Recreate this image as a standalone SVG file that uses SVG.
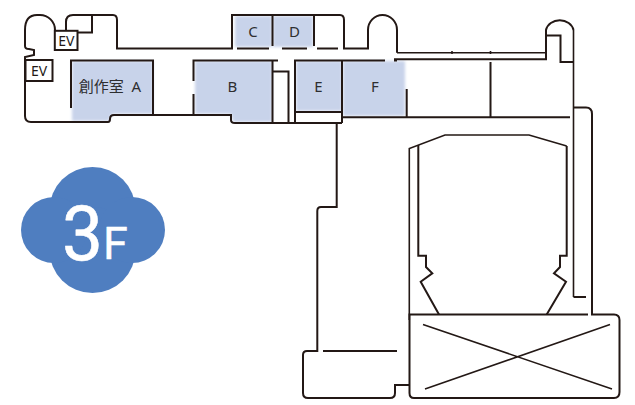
<svg xmlns="http://www.w3.org/2000/svg" width="635" height="405" viewBox="0 0 635 405">
<style>
.w{fill:none;stroke:#231815;stroke-width:2;stroke-linejoin:miter}
.t{fill:none;stroke:#231815;stroke-width:1.6}
.r{fill:#c8d3ea;filter:url(#b)}
.l{font-family:"Noto Sans","Noto Sans CJK JP",sans-serif;font-size:15px;fill:#2e2e30;text-anchor:middle}
.e{font-family:"Noto Sans",sans-serif;font-size:14px;fill:#231815;text-anchor:middle}
.b{fill:#fff;stroke:#231815;stroke-width:2}
</style>
<defs><filter id="b" x="-10%" y="-10%" width="120%" height="120%"><feGaussianBlur stdDeviation="1.8"/></filter></defs>
<rect width="635" height="405" fill="#fff"/>
<g id="rooms">
<path class="r" d="M72 61H153V114H112L109 121H72Z"/>
<path class="r" d="M195 61H272V122H233L231 114H195Z"/>
<rect class="r" x="235" y="16" width="37" height="31"/>
<rect class="r" x="273" y="16" width="40" height="31"/>
<rect class="r" x="296" y="61" width="46" height="50"/>
<rect class="r" x="343" y="61" width="62" height="55"/>
</g>
<g id="connectors">
<path class="w" d="M66 32V22Q66 15 73 15H113Q117 15 117 20V48.500H232V15H340Q344 15 344 20V48.500H368V30A14.500 15 0 0 1 397 30V52.700"/>
<path class="w" d="M55 32V30A15 15 0 0 0 40 15H37Q25 15 25 30V46Q25 49 29 49L34 50V55L25 57V116Q25 122 31 122H108Q110 122 110 119Q110 115 114 115H231V120Q231 123 235 123H342"/>
<path class="w" d="M92 15V32.500H78"/>
<path class="w" d="M71 108V60.500H153V114"/>
<path class="w" d="M193.500 81V60.500H278M193.500 94V114.500"/>
<path class="w" d="M272.500 60.500V123M272.500 71.500H288.500V123"/>
<path class="w" d="M272.500 15V46M314 15V46M237 48.500H269M282 48.500H307M317 48.500H338"/>
<path class="w" d="M295 123V60.500H385M394 60.500H397M342 60V123M295 112H342M336.700 123V207H321Q317.300 207 317.300 211V351H307Q303 351 303 355V393Q303 398 308 398H390Q395 398 395 393V385H409.500M323 351H397"/>
<path class="w" d="M342 117.300H570M406.700 89V117M490.500 62V117"/>
<path class="t" d="M397 52.700H546M452 51V54M490.500 51V54"/>
<path class="w" d="M394 59.300H546V30A14 12 0 0 1 573.500 30M546 35.500H560.500V62H573.500"/>
<path class="t" d="M573.500 30V297"/>
<path class="w" d="M573.500 297H586M573.500 107.500H586Q592 107.500 592 114V314.500H614Q619.500 314.500 619.500 320V392Q619.500 398 614 398H414Q409.500 398 409.500 393V314.500H588"/>
<path class="t" d="M423 324.500L612 389M610 324.500L425 389"/>
<path class="t" d="M409.300 320V148.500L445 135H529L566.700 146"/>
<path class="w" d="M418.300 145V255.700H426V267L432.300 273.300L420.700 281.700L439 314.500M566.700 146V255.700H560V267L554 273.300L566 281.700L546.700 314.500"/>
</g>
<g id="ev1"><rect class="b" x="54.800" y="30.800" width="22.700" height="19.200"/><text class="e" x="66.300" y="46">EV</text></g>
<g id="ev2"><rect class="b" x="25.500" y="60" width="27" height="21"/><text class="e" x="39" y="76">EV</text></g>
<g id="label-a"><text class="l" x="110" y="92" xml:space="preserve">創作室  A</text></g>
<g id="label-b"><text class="l" x="232.500" y="92">B</text></g>
<g id="label-c"><text class="l" x="253" y="37">C</text></g>
<g id="label-d"><text class="l" x="294.500" y="37">D</text></g>
<g id="label-e"><text class="l" x="318.500" y="92">E</text></g>
<g id="label-f"><text class="l" x="375" y="92">F</text></g>
<g id="badge">
<g fill="#4f7ec0"><circle cx="92.500" cy="210" r="43"/><circle cx="92.500" cy="250" r="43"/><circle cx="54" cy="230" r="33"/><circle cx="132" cy="230" r="33"/></g>
<text x="62" y="260" font-family="Roboto,sans-serif" font-size="76" fill="#fff" stroke="#fff" stroke-width="0.6" stroke-linejoin="round" textLength="41" lengthAdjust="spacingAndGlyphs">3</text>
<text x="103" y="259" font-family="Roboto,sans-serif" font-size="45" fill="#fff" stroke="#fff" stroke-width="0.4" stroke-linejoin="round">F</text>
</g>
</svg>
